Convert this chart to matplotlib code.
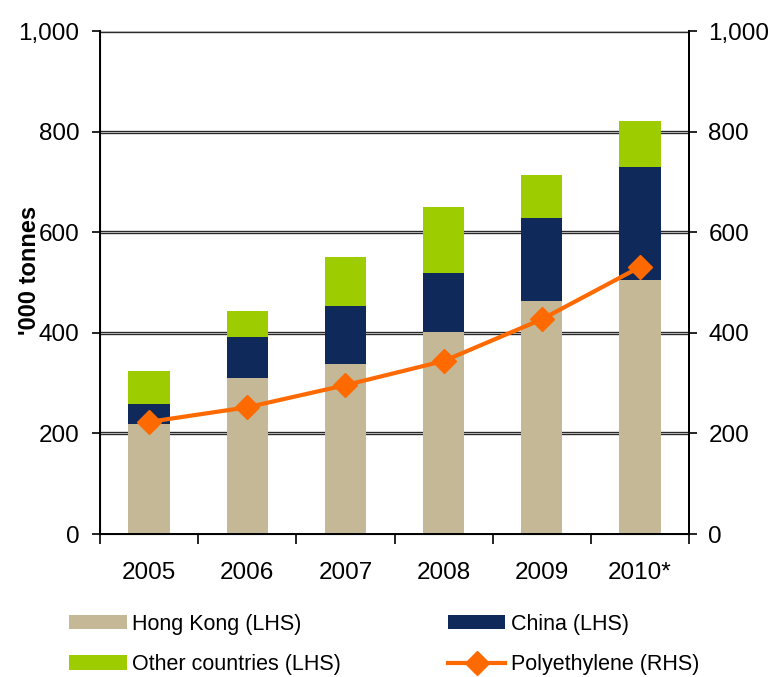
import matplotlib.pyplot as plt
import numpy as np

plt.rcParams['font.family'] = ['Liberation Sans', 'DejaVu Sans']

years = ["2005", "2006", "2007", "2008", "2009", "2010*"]
hong_kong = [219, 310, 338, 402, 464, 505]
china = [39, 82, 115, 117, 165, 225]
other = [66, 51, 98, 131, 85, 91]
polyethylene = [223, 252, 296, 344, 427, 531]

c_hk = "#c4b896"
c_cn = "#0f2a5a"
c_ot = "#9dcc00"
c_pe = "#ff6a00"


def main():
    fig = plt.figure(figsize=(7.71, 6.77), dpi=100)
    ax = fig.add_axes([0.1297, 0.2112, 0.764, 0.7428])
    x = np.arange(len(years))
    w = 0.42
    ylabels = ["0", "200", "400", "600", "800", "1,000"]

    # gridlines look doubled in the original: dark line with grey core
    for v in range(200, 1001, 200):
        ax.axhline(v, color="#222222", lw=2.4, zorder=0.5)
        ax.axhline(v, color="#b0b0b0", lw=0.8, zorder=0.6)

    b1 = ax.bar(x, hong_kong, w, color=c_hk, zorder=2)
    b2 = ax.bar(x, china, w, bottom=hong_kong, color=c_cn, zorder=2)
    bot = [a + b for a, b in zip(hong_kong, china)]
    b3 = ax.bar(x, other, w, bottom=bot, color=c_ot, zorder=2)

    ax.set_xlim(-0.5, len(years) - 0.5)
    ax.set_ylim(0, 1000)
    ax.set_yticks(range(0, 1001, 200))
    ax.set_yticklabels(ylabels)
    ax.set_xticks(x)
    ax.set_xticklabels(years)
    ax.tick_params(axis="x", length=0, pad=20, labelsize=17.5)
    ax.set_xticks(np.arange(-0.5, len(years)), minor=True)
    ax.tick_params(axis="x", which="minor", length=7, width=1.2, direction="out")
    ax.tick_params(axis="y", length=6, width=1.2, labelsize=17.5, pad=9)
    ax.set_ylabel("'000 tonnes", fontsize=17, fontweight="bold")
    ax.yaxis.set_label_coords(-0.10, 0.525)
    ax.spines["top"].set_visible(False)
    for s in ["left", "right", "bottom"]:
        ax.spines[s].set_linewidth(1.4)

    ax2 = ax.twinx()
    ax2.set_ylim(0, 1000)
    ax2.set_yticks(range(0, 1001, 200))
    ax2.set_yticklabels(ylabels)
    ax2.tick_params(axis="y", length=6, width=1.2, labelsize=17.5, pad=8)
    ax2.spines["top"].set_visible(False)
    ax2.spines["right"].set_linewidth(1.4)
    l1, = ax2.plot(x, polyethylene, color=c_pe, lw=3, marker="D", markersize=12,
                   zorder=5)

    fig.legend([b1, b3, b2, l1],
               ["Hong Kong (LHS)", "Other countries (LHS)", "China (LHS)", "Polyethylene (RHS)"],
               ncol=2, loc="lower left", bbox_to_anchor=(0.065, -0.026), frameon=False,
               fontsize=15.5, handlelength=2.65, handleheight=0.65, columnspacing=5.0,
               labelspacing=0.9, handletextpad=0.25)

    plt.savefig("out.png", dpi=100)


if __name__ == "__main__":
    main()
